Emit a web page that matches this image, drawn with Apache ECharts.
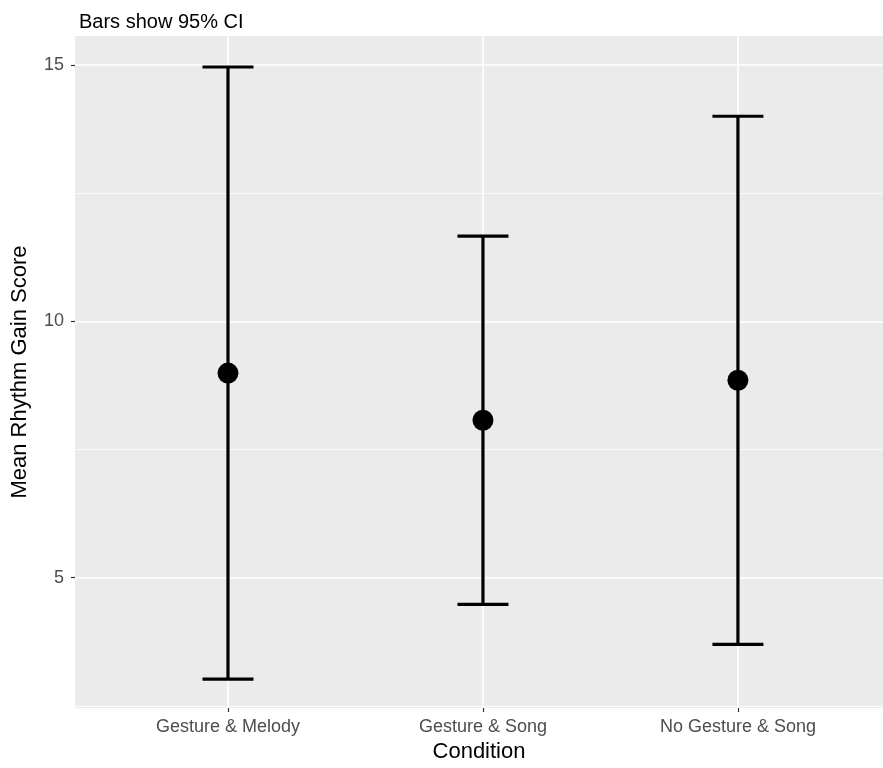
<!DOCTYPE html>
<html>
<head>
<meta charset="utf-8">
<script src="https://cdn.jsdelivr.net/npm/echarts@6/dist/echarts.min.js"></script>
<style>
  html, body { margin: 0; padding: 0; background: #fff; }
  #chart { width: 883px; height: 768px; }
</style>
</head>
<body>
<div id="chart"></div>
<script>
// conditions and CI values
const conditions = ['Gesture & Melody', 'Gesture & Song', 'No Gesture & Song']
const means = [8.99, 8.07, 8.85]
const lower = [3.02, 4.48, 3.70]
const upper = [14.96, 11.66, 14.0]
const yTicks = [5, 10, 15]
const yMinor = [2.5, 7.5, 12.5]

const font = 'Liberation Sans, Arial, Helvetica, sans-serif'
const positions = conditions.map((c, i) => i + 1)

const chart = echarts.init(document.getElementById('chart'))

const option = {
  animation: false,
  backgroundColor: '#fff',
  title: {
    text: 'Bars show 95% CI',
    left: 74,
    top: 7,
    textStyle: { fontFamily: font, fontSize: 20, fontWeight: 'normal', color: '#000' }
  },
  grid: {
    left: 75,
    right: 0,
    top: 36,
    bottom: 60,
    outerBoundsMode: 'none',
    containLabel: false,
    show: true,
    backgroundColor: '#EBEBEB',
    borderWidth: 0
  },
  xAxis: {
    type: 'value',
    min: 0.4,
    max: 3.569,
    name: 'Condition',
    nameLocation: 'middle',
    nameGap: 33,
    nameTextStyle: { fontFamily: font, fontSize: 22, color: '#000' },
    axisLine: { show: false },
    splitLine: { show: false },
    axisTick: {
      show: true,
      customValues: positions,
      length: 4,
      lineStyle: { color: '#333', width: 1.2 }
    },
    axisLabel: {
      customValues: positions,
      margin: 10,
      fontFamily: font,
      fontSize: 18,
      color: '#4D4D4D',
      formatter: v => conditions[Math.round(v) - 1] || ''
    }
  },
  yAxis: {
    type: 'value',
    min: 2.457,
    max: 15.565,
    name: 'Mean Rhythm Gain Score',
    nameLocation: 'middle',
    nameGap: 44,
    nameRotate: 90,
    nameTextStyle: { fontFamily: font, fontSize: 22, color: '#000' },
    axisLine: { show: false },
    splitLine: { show: false },
    axisTick: {
      show: true,
      customValues: yTicks,
      length: 4,
      lineStyle: { color: '#333', width: 1.2 }
    },
    axisLabel: {
      customValues: yTicks,
      margin: 11,
      fontFamily: font,
      fontSize: 18,
      color: '#4D4D4D'
    }
  },
  series: [
    {
      // panel grid lines
      type: 'line',
      data: [],
      z: 1,
      silent: true,
      markLine: {
        silent: true,
        z: 1,
        symbol: 'none',
        label: { show: false },
        animation: false,
        data: [
          ...yMinor.map(v => ({ yAxis: v, lineStyle: { color: '#fff', width: 0.8, type: 'solid' } })),
          ...yTicks.map(v => ({ yAxis: v, lineStyle: { color: '#fff', width: 1.6, type: 'solid' } })),
          ...positions.map(v => ({ xAxis: v, lineStyle: { color: '#fff', width: 1.6, type: 'solid' } }))
        ]
      }
    },
    {
      // error bars
      type: 'custom',
      z: 10,
      data: positions.map((p, i) => [p, lower[i], upper[i]]),
      renderItem: (params, api) => {
        const x = api.value(0)
        const lo = api.coord([x, api.value(1)])
        const hi = api.coord([x, api.value(2)])
        const half = api.size([0.2, 0])[0] / 2
        const style = { stroke: '#000', lineWidth: 3.2, fill: null }
        return {
          type: 'group',
          children: [
            { type: 'line', shape: { x1: lo[0], y1: lo[1], x2: hi[0], y2: hi[1] }, style },
            { type: 'line', shape: { x1: hi[0] - half, y1: hi[1], x2: hi[0] + half, y2: hi[1] }, style },
            { type: 'line', shape: { x1: lo[0] - half, y1: lo[1], x2: lo[0] + half, y2: lo[1] }, style }
          ]
        }
      }
    },
    {
      type: 'scatter',
      z: 11,
      symbol: 'circle',
      symbolSize: 21,
      itemStyle: { color: '#000', opacity: 1 },
      data: positions.map((p, i) => [p, means[i]])
    }
  ]
}

chart.setOption(option)
</script>
</body>
</html>
